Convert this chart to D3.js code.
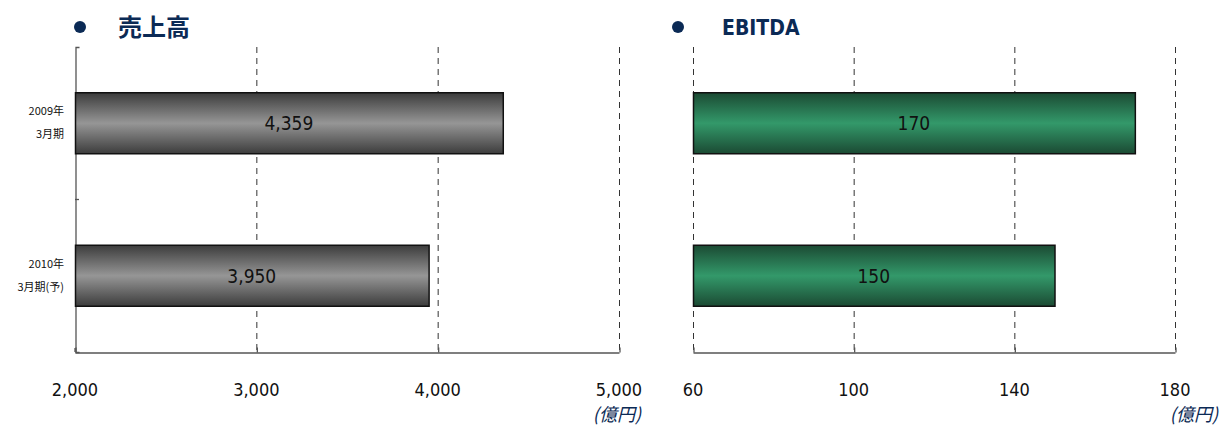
<!DOCTYPE html>
<html>
<head>
<meta charset="utf-8">
<script src="https://cdn.jsdelivr.net/npm/d3@7"></script>
<style>
  body { margin: 0; background: #fff; }
  svg text { font-family: "DejaVu Sans Condensed", "DejaVu Sans", "Noto Sans CJK JP", sans-serif; }
  .jp { font-family: "Noto Sans CJK JP", sans-serif !important; }
</style>
</head>
<body>
<div id="plot"></div>
<script>
// data
var periods = ["2009年|3月期", "2010年|3月期(予)"];
var sales = [4359, 3950];
var ebitda = [170, 150];
var salesTicks = [2000, 3000, 4000, 5000];
var ebitdaTicks = [60, 100, 140, 180];
var titles = ["売上高", "EBITDA"];
var unitLabel = "(億円)";

var W = 1222, H = 428;
var navy = "#0b2a55";

var svg = d3.select("#plot")
  .append("svg")
  .attr("width", W)
  .attr("height", H);

var defs = svg.append("defs");

function makeGrad(id, edge, mid) {
  var g = defs.append("linearGradient")
    .attr("id", id)
    .attr("x1", 0).attr("y1", 0).attr("x2", 0).attr("y2", 1);
  g.append("stop").attr("offset", "0%").attr("stop-color", edge);
  g.append("stop").attr("offset", "50%").attr("stop-color", mid);
  g.append("stop").attr("offset", "100%").attr("stop-color", edge);
}
makeGrad("gray", "#3c3c3c", "#969696");
makeGrad("green", "#1b4a33", "#33996a");

function drawPanel(opt) {
  var top = 47, bottom = 352;

  var x = d3.scaleLinear()
    .domain(d3.extent(opt.ticks))
    .range([opt.left, opt.right]);

  var y = d3.scaleBand()
    .domain(periods)
    .range([top, bottom])
    .paddingInner(0.6)
    .paddingOuter(0.3);

  var g = svg.append("g");

  // title
  g.append("circle")
    .attr("cx", opt.bulletX)
    .attr("cy", 27)
    .attr("r", 6)
    .attr("fill", navy);
  g.append("text")
    .attr("class", opt.jpTitle ? "jp" : null)
    .attr("x", opt.titleX)
    .attr("y", opt.jpTitle ? 36 : 35)
    .attr("font-size", opt.jpTitle ? 24 : 21)
    .attr("font-weight", opt.jpTitle ? "bold" : "600")
    .attr("fill", navy)
    .text(opt.title);

  // dashed gridlines
  g.append("g")
    .selectAll("line")
    .data(opt.ticks.filter(function(d, i) { return opt.solidLeft ? i > 0 : true; }))
    .enter()
    .append("line")
    .attr("x1", function(d) { return x(d) + 0.5; })
    .attr("x2", function(d) { return x(d) + 0.5; })
    .attr("y1", top)
    .attr("y2", bottom)
    .attr("stroke", "#333")
    .attr("stroke-width", 1)
    .attr("stroke-dasharray", "6,5");

  // bottom axis
  var xAxis = g.append("g")
    .attr("transform", "translate(0," + (bottom + 0.5) + ")")
    .call(d3.axisTop(x).tickValues(opt.ticks).tickSize(5).tickSizeOuter(0).tickFormat(""));
  xAxis.selectAll("path, line").attr("stroke", "#555").attr("stroke-width", 1.3);
  xAxis.selectAll(".tick line").attr("transform", "translate(0.5,0)");

  g.selectAll(".tlab")
    .data(opt.ticks)
    .enter()
    .append("text")
    .attr("x", function(d) { return x(d); })
    .attr("y", 396)
    .attr("text-anchor", "middle")
    .attr("font-size", 18)
    .attr("fill", "#111")
    .text(function(d) { return opt.format(d); });

  g.append("text")
    .attr("class", "jp")
    .attr("x", opt.unitX)
    .attr("y", 421)
    .attr("text-anchor", "end")
    .attr("font-size", 18)
    .attr("font-style", "italic")
    .attr("fill", navy)
    .text(unitLabel);

  // left axis (sales only)
  if (opt.solidLeft) {
    var yAxis = g.append("g")
      .attr("transform", "translate(" + (opt.left + 0.5) + ",0)")
      .call(d3.axisRight(y).tickValues([]).tickSizeOuter(4));
    yAxis.select("path").attr("stroke", "#555").attr("stroke-width", 1.3);
    g.append("line")
      .attr("x1", opt.left).attr("x2", opt.left + 4)
      .attr("y1", (top + bottom) / 2).attr("y2", (top + bottom) / 2)
      .attr("stroke", "#555").attr("stroke-width", 1.3);
    g.append("line")
      .attr("x1", opt.left).attr("x2", opt.left)
      .attr("y1", bottom - 4).attr("y2", bottom)
      .attr("stroke", "#555").attr("stroke-width", 1.3);

    // category labels
    var cat = g.selectAll(".cat")
      .data(periods)
      .enter()
      .append("text")
      .attr("class", "jp")
      .attr("text-anchor", "end")
      .attr("font-size", 11)
      .attr("fill", "#111")
      .attr("transform", function(d) { return "translate(" + (opt.left - 11) + "," + (y(d) + y.bandwidth() / 2) + ")"; });
    cat.append("tspan")
      .attr("x", 0)
      .attr("y", -8)
      .text(function(d) { return d.split("|")[0]; });
    cat.append("tspan")
      .attr("x", 0)
      .attr("y", 15)
      .text(function(d) { return d.split("|")[1]; });
  }

  // bars
  g.selectAll(".bar")
    .data(opt.values)
    .enter()
    .append("rect")
    .attr("x", x.range()[0] + 0.5)
    .attr("y", function(d, i) { return y(periods[i]); })
    .attr("width", function(d) { return x(d) - x.range()[0]; })
    .attr("height", y.bandwidth())
    .attr("fill", "url(#" + opt.grad + ")")
    .attr("stroke", "#111")
    .attr("stroke-width", 1.5);

  g.selectAll(".val")
    .data(opt.values)
    .enter()
    .append("text")
    .attr("x", function(d) { return (x.range()[0] + x(d)) / 2; })
    .attr("y", function(d, i) { return y(periods[i]) + y.bandwidth() / 2 + 7; })
    .attr("text-anchor", "middle")
    .attr("font-size", 19)
    .attr("fill", "#111")
    .text(function(d) { return opt.format(d); });
}

drawPanel({
  left: 75, right: 619,
  bulletX: 80, titleX: 118, unitX: 641,
  ticks: salesTicks, values: sales,
  title: titles[0], jpTitle: true,
  grad: "gray", solidLeft: true,
  format: d3.format(",")
});

drawPanel({
  left: 693, right: 1175,
  bulletX: 678, titleX: 722, unitX: 1218,
  ticks: ebitdaTicks, values: ebitda,
  title: titles[1], jpTitle: false,
  grad: "green", solidLeft: false,
  format: d3.format("d")
});
</script>
</body>
</html>
